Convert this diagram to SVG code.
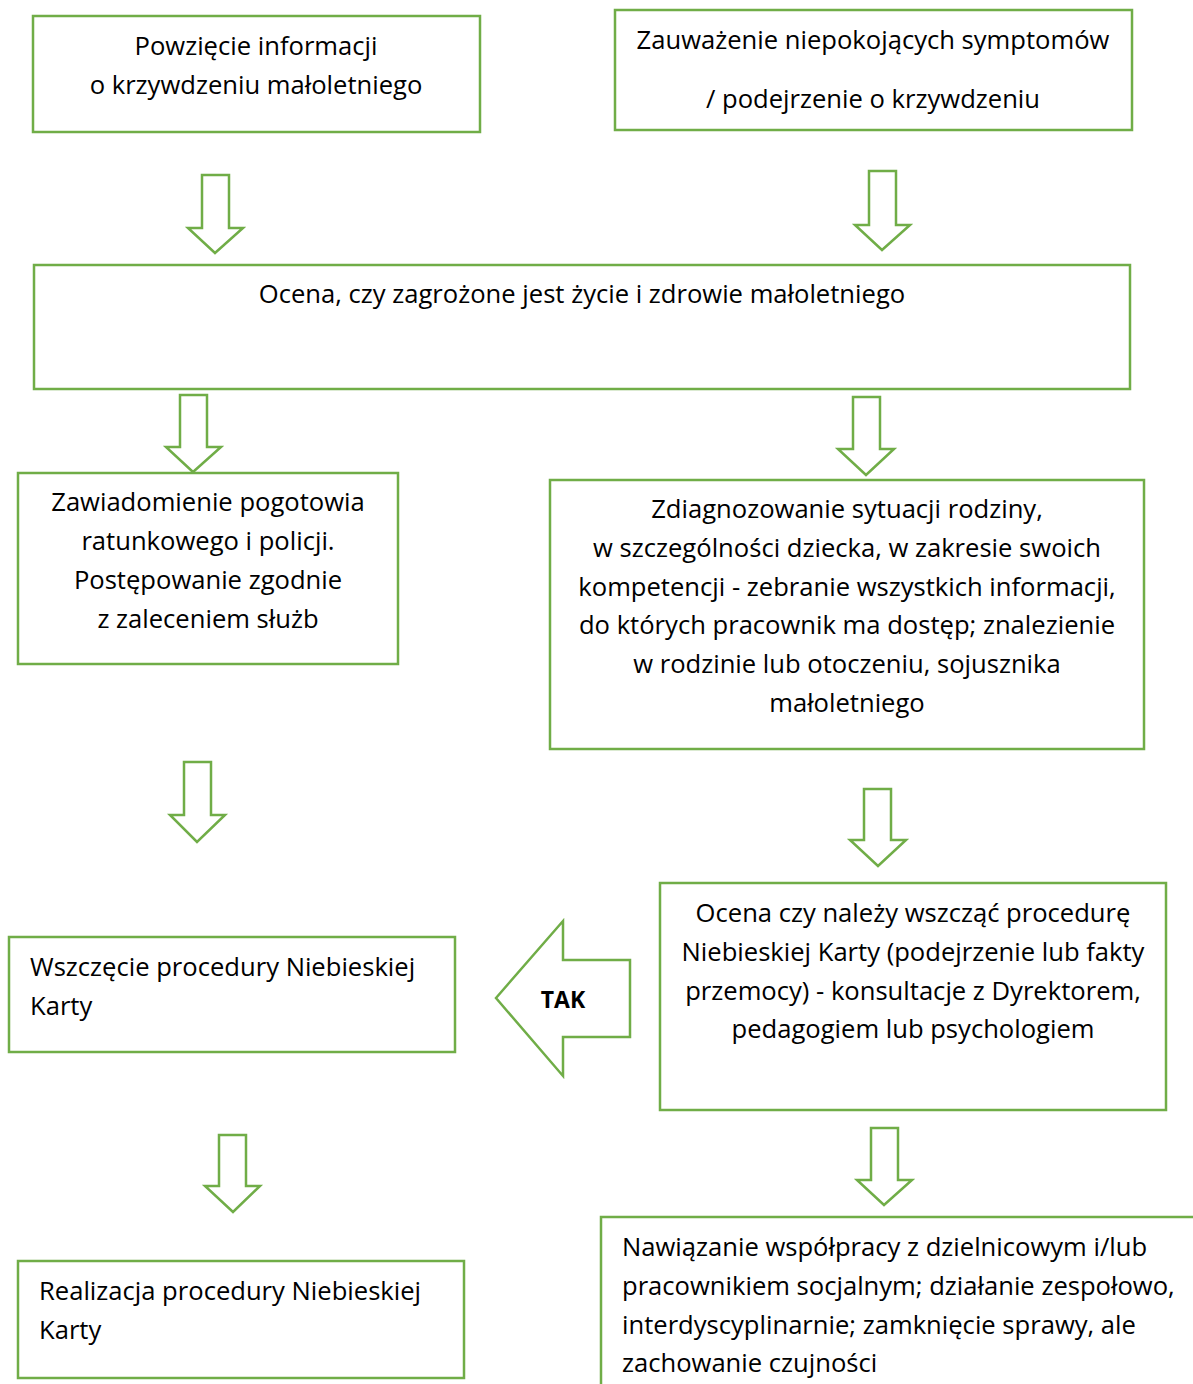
<svg xmlns="http://www.w3.org/2000/svg" width="1193" height="1384" viewBox="0 0 1193 1384">
<style>
.box{fill:#fff;stroke:#70AD47;stroke-width:2.5}
.arr{fill:#fff;stroke:#70AD47;stroke-width:2.5;stroke-linejoin:miter}
text{font-family:"Open Sans","Liberation Sans",sans-serif;font-size:25.6px;fill:#000}
.c{text-anchor:middle}
.b{font-weight:bold;font-size:23px}
</style>
<rect width="1193" height="1384" fill="#fff"/>
<g id="connectors">
<polygon class="arr" points="202,175 229,175 229,228 243,228 215,253 188,228 202,228"/>
<polygon class="arr" points="869,171 896,171 896,225 910,225 882,250 855,225 869,225"/>
<polygon class="arr" points="180,395 207,395 207,447 221,447 193,472 166,447 180,447"/>
<polygon class="arr" points="853,397 880,397 880,449 894,449 866,475 838,449 853,449"/>
<polygon class="arr" points="184,762 211,762 211,815 225,815 197,842 170,815 184,815"/>
<polygon class="arr" points="864,789 891,789 891,840 906,840 878,866 850,840 864,840"/>
<polygon class="arr" points="219,1135 246,1135 246,1186 260,1186 233,1212 205,1186 219,1186"/>
<polygon class="arr" points="871,1128 898,1128 898,1180 912,1180 884,1205 857,1180 871,1180"/>
<g id="tak">
<polygon class="arr" points="496,998 563,921 563,960 630,960 630,1037 563,1037 563,1076"/>
<text class="c b" x="563" y="1008">TAK</text>
</g>
</g>
<g id="n1"><rect class="box" x="33" y="16" width="447" height="116"/>
<text class="c" x="256" y="55">Powzięcie informacji</text>
<text class="c" x="256" y="94">o krzywdzeniu małoletniego</text></g>
<g id="n2"><rect class="box" x="615" y="10" width="517" height="120"/>
<text class="c" x="873" y="49">Zauważenie niepokojących symptomów</text>
<text class="c" x="873" y="108">/ podejrzenie o krzywdzeniu</text></g>
<g id="n3"><rect class="box" x="34" y="265" width="1096" height="124"/>
<text class="c" x="582" y="303">Ocena, czy zagrożone jest życie i zdrowie małoletniego</text></g>
<g id="n4"><rect class="box" x="18" y="473" width="380" height="191"/>
<text class="c" x="208" y="511">Zawiadomienie pogotowia</text>
<text class="c" x="208" y="550">ratunkowego i policji.</text>
<text class="c" x="208" y="589">Postępowanie zgodnie</text>
<text class="c" x="208" y="628">z zaleceniem służb</text></g>
<g id="n5"><rect class="box" x="550" y="480" width="594" height="269"/>
<text class="c" x="847" y="518">Zdiagnozowanie sytuacji rodziny,</text>
<text class="c" x="847" y="557">w szczególności dziecka, w zakresie swoich</text>
<text class="c" x="847" y="596">kompetencji - zebranie wszystkich informacji,</text>
<text class="c" x="847" y="634">do których pracownik ma dostęp; znalezienie</text>
<text class="c" x="847" y="673">w rodzinie lub otoczeniu, sojusznika</text>
<text class="c" x="847" y="712">małoletniego</text></g>
<g id="n6"><rect class="box" x="660" y="883" width="506" height="227"/>
<text class="c" x="913" y="922">Ocena czy należy wszcząć procedurę</text>
<text class="c" x="913" y="961">Niebieskiej Karty (podejrzenie lub fakty</text>
<text class="c" x="913" y="1000">przemocy) - konsultacje z Dyrektorem,</text>
<text class="c" x="913" y="1038">pedagogiem lub psychologiem</text></g>
<g id="n7"><rect class="box" x="9" y="937" width="446" height="115"/>
<text x="30" y="976">Wszczęcie procedury Niebieskiej</text>
<text x="30" y="1015">Karty</text></g>
<g id="n8"><rect class="box" x="18" y="1261" width="446" height="117"/>
<text x="39" y="1300">Realizacja procedury Niebieskiej</text>
<text x="39" y="1339">Karty</text></g>
<g id="n9"><rect class="box" x="601" y="1217" width="620" height="200"/>
<text x="622" y="1256">Nawiązanie współpracy z dzielnicowym i/lub</text>
<text x="622" y="1295">pracownikiem socjalnym; działanie zespołowo,</text>
<text x="622" y="1334">interdyscyplinarnie; zamknięcie sprawy, ale</text>
<text x="622" y="1372">zachowanie czujności</text></g>
</svg>
